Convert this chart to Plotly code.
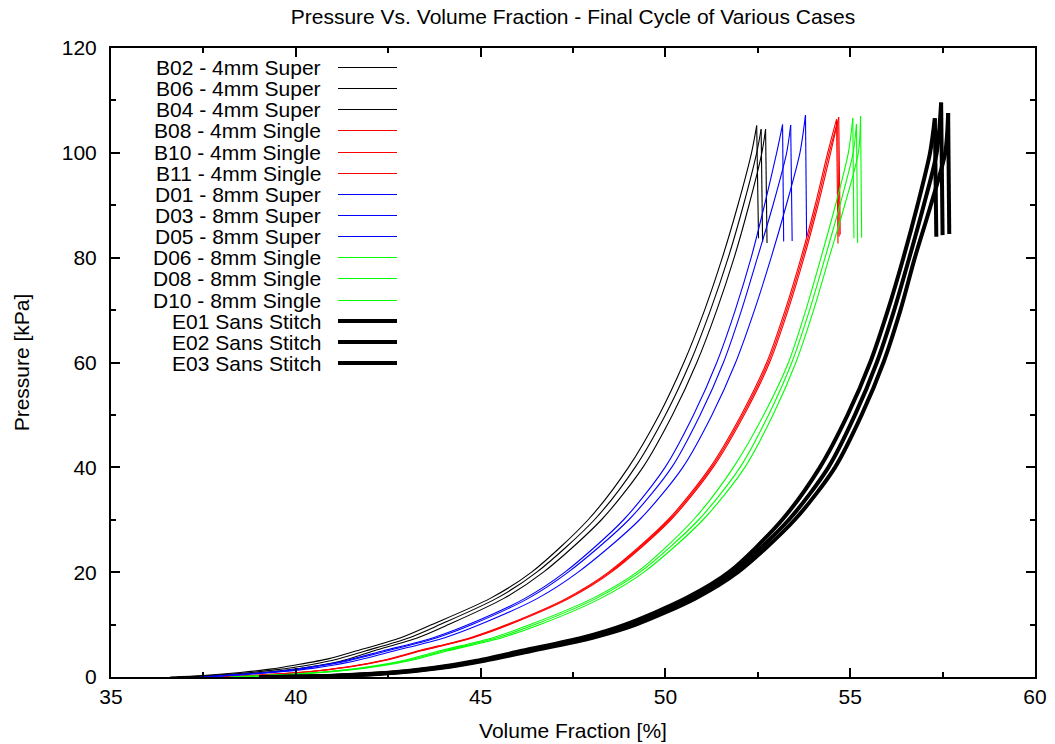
import plotly.graph_objects as go

# ---- data: volume fraction [%] and pressure [kPa] ----
# each series: loading branch ... peak, then the unload drop (last point)
b02_vf = [36.6, 37.5, 38.5, 39.3, 40.0, 40.9, 41.65, 42.84, 43.68, 45.26, 46.38, 47.91, 49.00, 49.83, 50.50, 51.06, 51.54, 51.96, 52.33, 52.47, 52.52]
b02_p  = [0.0, 0.3, 0.85, 1.5, 2.3, 3.5, 5, 7.5, 10, 15, 20, 30, 40, 50, 60, 70, 80, 90, 100, 105.2, 83.7]
b06_vf = [36.8, 37.7, 38.7, 39.5, 40.2, 41.0, 41.90, 43.07, 43.90, 45.43, 46.52, 48.08, 49.18, 50.00, 50.67, 51.22, 51.70, 52.11, 52.47, 52.59, 52.63]
b06_p  = [0.0, 0.3, 0.8, 1.4, 2.1, 3.2, 5, 7.5, 10, 15, 20, 30, 40, 50, 60, 70, 80, 90, 100, 104.5, 83.0]
b04_vf = [37.0, 37.9, 38.9, 39.7, 40.4, 41.2, 42.12, 43.30, 44.13, 45.63, 46.70, 48.27, 49.39, 50.19, 50.85, 51.39, 51.86, 52.26, 52.61, 52.71, 52.75]
b04_p  = [0.0, 0.3, 0.75, 1.3, 1.95, 3.0, 5, 7.5, 10, 15, 20, 30, 40, 50, 60, 70, 80, 90, 100, 104.5, 82.8]

b08_vf = [37.96, 39.46, 40.56, 41.46, 42.36, 43.32, 44.72, 45.71, 47.32, 48.46, 50.07, 51.21, 52.05, 52.74, 53.24, 53.67, 54.05, 54.39, 54.63, 54.67]
b08_p  = [0.0, 0.55, 1.2, 2.0, 3.2, 5, 7.5, 10, 15, 20, 30, 40, 50, 60, 70, 80, 90, 100, 106.4, 82.7]
b10_vf = [38.00, 39.50, 40.60, 41.50, 42.40, 43.36, 44.76, 45.75, 47.36, 48.50, 50.11, 51.25, 52.09, 52.78, 53.28, 53.71, 54.09, 54.43, 54.66, 54.70]
b10_p  = [0.0, 0.55, 1.2, 2.0, 3.2, 5, 7.5, 10, 15, 20, 30, 40, 50, 60, 70, 80, 90, 100, 106.0, 84.0]
b11_vf = [38.04, 39.54, 40.64, 41.54, 42.44, 43.40, 44.80, 45.79, 47.40, 48.54, 50.15, 51.29, 52.13, 52.82, 53.32, 53.75, 54.13, 54.47, 54.69, 54.73]
b11_p  = [0.0, 0.55, 1.2, 2.0, 3.2, 5, 7.5, 10, 15, 20, 30, 40, 50, 60, 70, 80, 90, 100, 106.8, 84.4]

d01_vf = [37.4, 38.5, 39.4, 40.2, 41.2, 42.37, 43.72, 44.67, 46.20, 47.28, 48.87, 49.99, 50.76, 51.39, 51.89, 52.32, 52.68, 53.01, 53.17, 53.20]
d01_p  = [0.0, 0.5, 1.0, 1.7, 2.9, 5, 7.5, 10, 15, 20, 30, 40, 50, 60, 70, 80, 90, 100, 105.4, 83.1]
d03_vf = [37.5, 38.6, 39.5, 40.3, 41.3, 42.49, 43.82, 44.77, 46.29, 47.37, 49.01, 50.17, 50.94, 51.57, 52.06, 52.49, 52.91, 53.28, 53.39, 53.43]
d03_p  = [0.0, 0.5, 1.0, 1.7, 2.9, 5, 7.5, 10, 15, 20, 30, 40, 50, 60, 70, 80, 90, 100, 105.3, 83.2]
d05_vf = [37.6, 38.7, 39.6, 40.5, 41.5, 42.68, 44.03, 44.98, 46.54, 47.64, 49.30, 50.47, 51.26, 51.90, 52.41, 52.86, 53.27, 53.64, 53.79, 53.82]
d05_p  = [0.0, 0.5, 1.0, 1.7, 2.9, 5, 7.5, 10, 15, 20, 30, 40, 50, 60, 70, 80, 90, 100, 107.2, 84.0]

d06_vf = [38.2, 40.0, 41.2, 42.1, 43.0, 43.90, 45.33, 46.34, 48.03, 49.23, 50.76, 51.84, 52.66, 53.33, 53.80, 54.21, 54.60, 54.95, 55.07, 55.10]
d06_p  = [0.0, 0.6, 1.3, 2.1, 3.3, 5, 7.5, 10, 15, 20, 30, 40, 50, 60, 70, 80, 90, 100, 106.6, 83.7]
d08_vf = [38.3, 40.1, 41.3, 42.2, 43.1, 44.01, 45.45, 46.47, 48.13, 49.31, 50.90, 52.02, 52.79, 53.42, 53.90, 54.32, 54.72, 55.08, 55.17, 55.20]
d08_p  = [0.0, 0.6, 1.3, 2.1, 3.3, 5, 7.5, 10, 15, 20, 30, 40, 50, 60, 70, 80, 90, 100, 105.5, 82.8]
d10_vf = [38.4, 40.2, 41.4, 42.3, 43.2, 44.12, 45.58, 46.61, 48.25, 49.42, 51.02, 52.15, 52.91, 53.53, 54.01, 54.43, 54.85, 55.22, 55.28, 55.31]
d10_p  = [0.0, 0.6, 1.3, 2.1, 3.3, 5, 7.5, 10, 15, 20, 30, 40, 50, 60, 70, 80, 90, 100, 107.0, 83.8]

e01_vf = [39.0, 41.0, 42.5, 43.7, 44.9, 46.12, 47.75, 48.91, 50.55, 51.72, 53.16, 54.18, 54.93, 55.54, 56.02, 56.44, 56.82, 57.16, 57.29, 57.33]
e01_p  = [0.0, 0.25, 0.8, 1.7, 3.1, 5, 7.5, 10, 15, 20, 30, 40, 50, 60, 70, 80, 90, 100, 106.6, 84.0]
e02_vf = [39.1, 41.1, 42.6, 43.8, 45.0, 46.26, 47.89, 49.04, 50.67, 51.83, 53.34, 54.41, 55.13, 55.72, 56.19, 56.60, 56.99, 57.34, 57.46, 57.50]
e02_p  = [0.0, 0.25, 0.8, 1.7, 3.1, 5, 7.5, 10, 15, 20, 30, 40, 50, 60, 70, 80, 90, 100, 109.6, 84.3]
e03_vf = [39.2, 41.2, 42.7, 43.9, 45.1, 46.39, 48.03, 49.20, 50.81, 51.96, 53.50, 54.59, 55.31, 55.90, 56.36, 56.75, 57.18, 57.57, 57.65, 57.68]
e03_p  = [0.0, 0.25, 0.8, 1.7, 3.1, 5, 7.5, 10, 15, 20, 30, 40, 50, 60, 70, 80, 90, 100, 107.6, 84.5]

series_names = ["B02 - 4mm Super", "B06 - 4mm Super", "B04 - 4mm Super",
                "B08 - 4mm Single", "B10 - 4mm Single", "B11 - 4mm Single",
                "D01 - 8mm Super", "D03 - 8mm Super", "D05 - 8mm Super",
                "D06 - 8mm Single", "D08 - 8mm Single", "D10 - 8mm Single",
                "E01 Sans Stitch", "E02 Sans Stitch", "E03 Sans Stitch"]
series_data = [(b02_vf, b02_p), (b06_vf, b06_p), (b04_vf, b04_p),
               (b08_vf, b08_p), (b10_vf, b10_p), (b11_vf, b11_p),
               (d01_vf, d01_p), (d03_vf, d03_p), (d05_vf, d05_p),
               (d06_vf, d06_p), (d08_vf, d08_p), (d10_vf, d10_p),
               (e01_vf, e01_p), (e02_vf, e02_p), (e03_vf, e03_p)]
series_colors = ["#000000"] * 3 + ["#ff0000"] * 3 + ["#0000ff"] * 3 + ["#00ff00"] * 3 + ["#000000"] * 3
series_widths = [1.1] * 12 + [4] * 3

FONT = "Liberation Sans, Arial, Helvetica, sans-serif"
FS = 21
W, H = 1055, 744
L, R, T, B = 111, 20, 48, 67

fig = go.Figure()
for name, (vf, p), col, w in zip(series_names, series_data, series_colors, series_widths):
    # loading branch (smooth)
    fig.add_trace(go.Scatter(x=vf[:-1], y=p[:-1], mode="lines", name=name,
                             line=dict(color=col, width=w, shape="spline", smoothing=0.8),
                             showlegend=False, hoverinfo="skip"))
    # unloading drop
    fig.add_trace(go.Scatter(x=vf[-2:], y=p[-2:], mode="lines", name=name,
                             line=dict(color=col, width=w),
                             showlegend=False, hoverinfo="skip"))

# gnuplot-style key: text right-aligned, sample line to the right
pw, ph = W - L - R, H - T - B
row0, drow = 67, 21.14
text_right, line_x0, line_x1 = 323, 338, 397
annotations = []
shapes = []
for i, (name, col, w) in enumerate(zip(series_names, series_colors, series_widths)):
    thin = w < 2
    ypx = round(row0 + i * drow) + (0.5 if thin else 0.0)
    yp = (H - B - ypx) / ph
    annotations.append(dict(text=name, x=(text_right - L) / pw, y=yp, xref="paper", yref="paper",
                            xanchor="right", yanchor="middle", showarrow=False,
                            font=dict(family=FONT, size=FS, color="#000000")))
    shapes.append(dict(type="line", xref="paper", yref="paper",
                       x0=(line_x0 - L) / pw, x1=(line_x1 - L) / pw, y0=yp, y1=yp,
                       line=dict(color=col, width=1 if thin else w)))

axis_common = dict(showgrid=False, zeroline=False, showline=True, linecolor="#000000", linewidth=2,
                   mirror="ticks", ticks="inside", ticklen=9, tickwidth=1.5, tickcolor="#000000",
                   tickfont=dict(family=FONT, size=FS, color="#000000"))

fig.update_layout(
    width=W, height=H,
    margin=dict(l=L, r=R, t=T, b=B, autoexpand=False),
    paper_bgcolor="white", plot_bgcolor="white",
    title=dict(text="Pressure Vs. Volume Fraction - Final Cycle of Various Cases",
               x=0.5 * (L + W - R) / W, xanchor="center", y=1 - 17 / H, yanchor="middle",
               font=dict(family=FONT, size=FS, color="#000000")),
    xaxis=dict(range=[35, 60], dtick=5, tick0=35,
               minor=dict(dtick=2.5, ticks="inside", ticklen=5, tickwidth=1.5, tickcolor="#000000"),
               title=dict(text="Volume Fraction [%]", standoff=16,
                          font=dict(family=FONT, size=FS, color="#000000")),
               **axis_common),
    yaxis=dict(range=[0, 120], dtick=20, tick0=0, ticklabelstandoff=8,
               minor=dict(dtick=10, ticks="inside", ticklen=5, tickwidth=1.5, tickcolor="#000000"),
               title=dict(text="Pressure [kPa]", standoff=26,
                          font=dict(family=FONT, size=FS, color="#000000")),
               **axis_common),
    annotations=annotations,
    shapes=shapes,
    showlegend=False,
)

fig.write_html("out.html")
